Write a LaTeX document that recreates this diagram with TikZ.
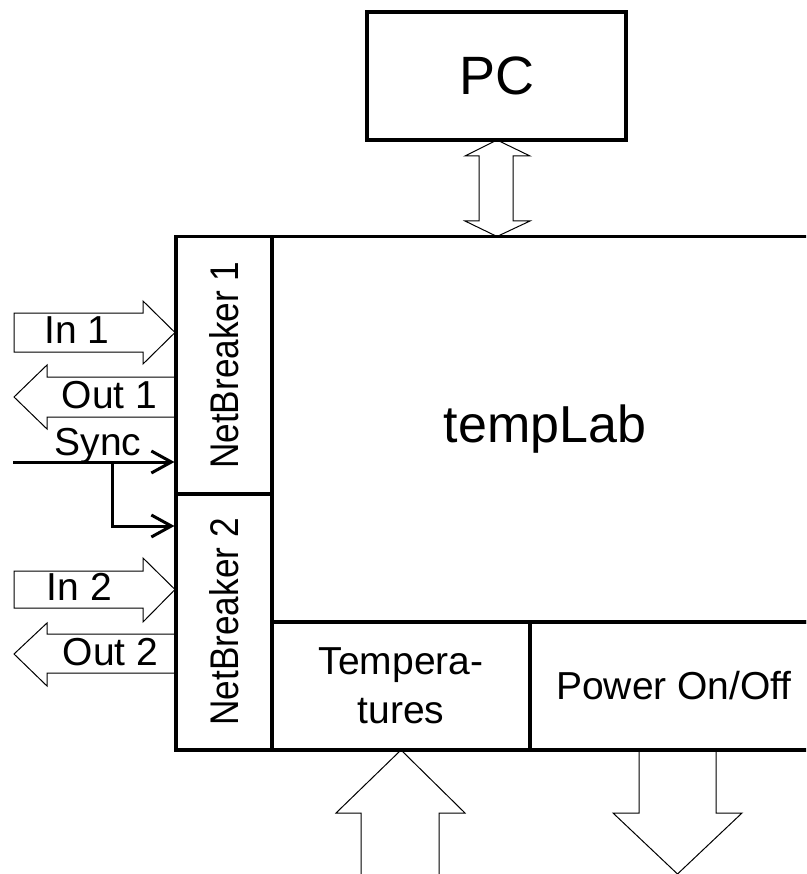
\documentclass[tikz,border=0pt]{standalone}
\usepackage{fontspec}
\setmainfont{Liberation Sans}
\newfontfamily\nbfont{Liberation Sans}[FakeStretch=0.88]
\usetikzlibrary{arrows.meta}
\begin{document}
\begin{tikzpicture}[x=1pt,y=-1pt,
  cell/.style={draw, line width=3.1pt, inner sep=0pt, anchor=center, align=center},
  blockarrow/.style={draw, line width=1pt, fill=white, line join=miter},
  syncline/.style={line width=3pt, -{Straight Barb[length=20pt,width=22pt,line width=3pt]}},
  lbl/.style={inner sep=0pt, anchor=base, font=\fontsize{39}{47}\selectfont},
  cellfont/.style={font=\fontsize{39}{49}\selectfont},
  nbtext/.style={font={\nbfont\fontsize{40}{48}\selectfont}}]
\useasboundingbox (0,0) rectangle (806,874);
\clip (0,0) rectangle (806,874);

% block arrows (drawn first, cells on top)
\filldraw[blockarrow] (497,140) -- (530,156) -- (513,156) -- (513,221) -- (530,221) -- (497,236.5)
  -- (465,221) -- (479,221) -- (479,156) -- (465,156) -- cycle;
\filldraw[blockarrow] (14,313) -- (143,313) -- (143,301) -- (175,332.5) -- (143,364) -- (143,352) -- (14,352) -- cycle;
\filldraw[blockarrow] (175,377) -- (47,377) -- (47,365) -- (14,397) -- (47,429) -- (47,417) -- (175,417);
\filldraw[blockarrow] (14,571) -- (143,571) -- (143,558) -- (175,589.5) -- (143,622) -- (143,608) -- (14,608) -- cycle;
\filldraw[blockarrow] (175,634) -- (47,634) -- (47,623) -- (14,654) -- (47,686) -- (47,673) -- (175,673);
\filldraw[blockarrow] (361,880) -- (361,813) -- (336,813) -- (401,750) -- (465,813) -- (439,813) -- (439,880);
\filldraw[blockarrow] (639,750) -- (639,813) -- (613,813) -- (677.5,874) -- (742,813) -- (716,813) -- (716,750);

% cells
\node[cell, minimum width=259pt, minimum height=128pt, font=\fontsize{54}{60}\selectfont] (pc) at (496.5,76) {PC};
\node[cell, minimum width=96pt, minimum height=257.5pt, nbtext] (nb1) at (224,365.25) {\rotatebox{90}{NetBreaker 1}};
\node[cell, minimum width=96pt, minimum height=256pt, nbtext] (nb2) at (224,622) {\rotatebox{90}{NetBreaker 2}};
\node[cell, minimum width=546pt, minimum height=385.5pt, font=\fontsize{52}{60}\selectfont] (templab) at (545,429.25) {tempLab};
\node[cell, minimum width=258pt, minimum height=128pt, cellfont] (temps) at (401,686) {Tempera-\\tures};
\node[cell, minimum width=288pt, minimum height=128pt, cellfont] (power) at (674,686) {Power On/Off};

% labels on the left arrows
\node[lbl] (in1) at (77,343) {In 1};
\node[lbl] (out1) at (109.5,408) {Out 1};
\node[lbl] (sync) at (98,455) {Sync};
\node[lbl] (in2) at (79.5,600) {In 2};
\node[lbl] (out2) at (110.5,665) {Out 2};

% sync lines
\coordinate (syncin) at (13,462);
\coordinate (syncbr) at (112,462);
\draw[syncline] (syncin) -- (syncin -| nb1.west);
\draw[syncline] (syncbr) |- (nb2.west |- 0,526);
\end{tikzpicture}
\end{document}
